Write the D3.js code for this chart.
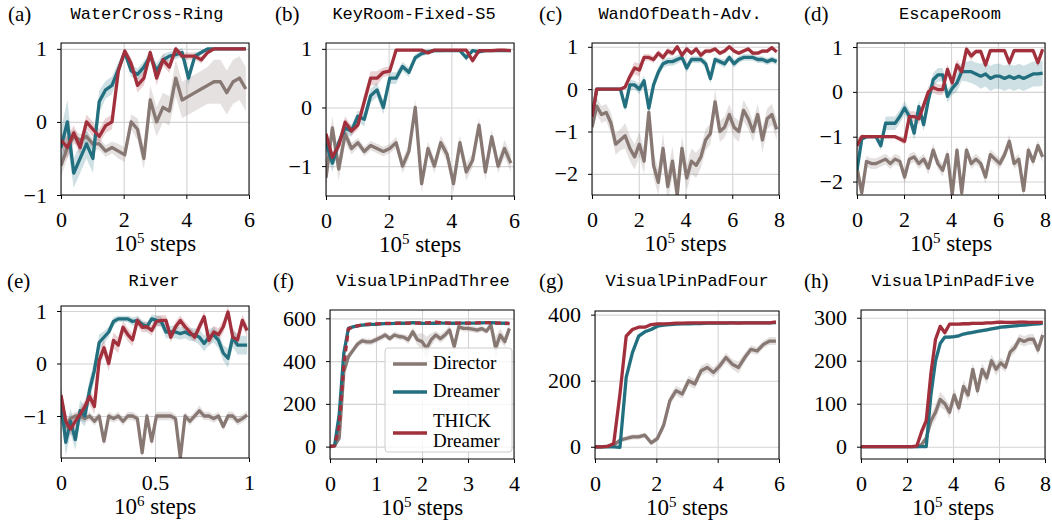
<!DOCTYPE html>
<html>
<head>
    <meta charset="utf-8">
    <script src="https://d3js.org/d3.v7.min.js"></script>
    <style>
        body { margin: 0; background: #fff; }
        .tick text { font-family: "Liberation Serif", serif; font-size: 22px; fill: #000; }
        .grid line { stroke: #d4d4d4; stroke-width: 1.1; }
        .grid path { display: none; }
        .axis path { display: none; }
        .axis line { stroke: #000; stroke-width: 1; }
        .title { font-family: "Liberation Mono", monospace; font-size: 17px; fill: #000; }
        .plabel { font-family: "Liberation Serif", serif; font-size: 21px; fill: #000; }
        .xlabel { font-family: "Liberation Serif", serif; font-size: 23px; fill: #000; }
        .legend text { font-family: "Liberation Serif", serif; font-size: 19px; fill: #000; }
    </style>
</head>
<body>
<script>
    // series names and colours
    let names = ["Director", "Dreamer", "THICK Dreamer"];
    let colors = ["#877873", "#22707f", "#a2303c"];

    // (a) WaterCross-Ring, 30 samples over 0..5.9 (x 1e5 steps)
    let aDirector = [-0.6, -0.35, -0.2, -0.25, -0.2, -0.3, -0.3, -0.4, -0.35, -0.4, -0.45, 0.0, -0.1, -0.5, 0.3, 0.0, 0.2, 0.15, 0.6, 0.3, 0.35, 0.4, 0.45, 0.5, 0.55, 0.55, 0.4, 0.55, 0.6, 0.45];
    let aDirectorSd = [0.15, 0.15, 0.1, 0.08, 0.08, 0.08, 0.08, 0.08, 0.08, 0.1, 0.1, 0.1, 0.15, 0.15, 0.2, 0.2, 0.2, 0.2, 0.25, 0.25, 0.25, 0.25, 0.25, 0.25, 0.3, 0.3, 0.3, 0.3, 0.3, 0.3];
    let aDreamer = [-0.35, 0.0, -0.7, -0.5, -0.3, -0.5, 0.28, 0.44, 0.5, 0.72, 0.95, 0.7, 0.65, 0.75, 0.9, 0.7, 0.85, 0.9, 0.92, 0.95, 0.6, 0.9, 0.95, 1.0, 1.0, 1.0, 1.0, 1.0, 1.0, 1.0];
    let aDreamerSd = [0.25, 0.3, 0.2, 0.2, 0.2, 0.2, 0.15, 0.12, 0.12, 0.1, 0.05, 0.08, 0.08, 0.08, 0.08, 0.1, 0.08, 0.06, 0.06, 0.06, 0.1, 0.05, 0.03, 0.02, 0.01, 0.01, 0.01, 0.01, 0.01, 0.01];
    let aThick = [-0.25, -0.35, -0.15, -0.35, 0.0, -0.1, -0.2, -0.05, 0.0, 0.7, 0.97, 0.8, 0.5, 0.6, 0.95, 0.6, 0.85, 0.75, 1.0, 0.9, 0.9, 0.9, 0.85, 0.95, 1.0, 1.0, 1.0, 1.0, 1.0, 1.0];
    let aThickSd = [0.1, 0.15, 0.1, 0.1, 0.1, 0.1, 0.1, 0.1, 0.1, 0.08, 0.04, 0.08, 0.1, 0.1, 0.05, 0.1, 0.08, 0.08, 0.04, 0.05, 0.05, 0.05, 0.05, 0.03, 0.01, 0.01, 0.01, 0.01, 0.01, 0.01];

    // (b) KeyRoom-Fixed-S5, 30 samples over 0..5.9
    let bDirector = [-1.2, -0.35, -1.05, -0.45, -0.7, -0.6, -0.75, -0.65, -0.7, -0.75, -0.7, -0.6, -1.0, -0.75, 0.0, -1.3, -0.7, -1.0, -0.6, -0.8, -1.3, -0.6, -1.1, -0.9, -0.3, -1.1, -0.5, -1.0, -0.7, -0.95];
    let bDirectorSd = [0.2, 0.2, 0.2, 0.15, 0.1, 0.08, 0.08, 0.08, 0.08, 0.08, 0.08, 0.1, 0.12, 0.12, 0.15, 0.15, 0.12, 0.12, 0.12, 0.12, 0.15, 0.12, 0.15, 0.12, 0.12, 0.15, 0.12, 0.12, 0.15, 0.15];
    let bDreamer = [-0.6, -0.95, -0.6, -0.35, -0.4, -0.15, -0.2, 0.2, 0.3, 0.0, 0.5, 0.5, 0.7, 0.6, 0.85, 0.92, 0.95, 0.97, 0.97, 0.97, 0.97, 0.97, 0.85, 0.97, 0.95, 0.97, 0.97, 0.97, 0.97, 0.97];
    let bDreamerSd = [0.15, 0.15, 0.1, 0.1, 0.1, 0.1, 0.12, 0.12, 0.12, 0.12, 0.1, 0.1, 0.08, 0.08, 0.06, 0.05, 0.04, 0.03, 0.03, 0.02, 0.02, 0.02, 0.06, 0.02, 0.03, 0.02, 0.02, 0.02, 0.02, 0.02];
    let bThick = [-0.45, -0.85, -0.65, -0.25, -0.4, -0.3, 0.1, 0.5, 0.5, 0.6, 0.62, 0.98, 0.98, 0.98, 0.98, 0.98, 0.93, 0.98, 0.98, 0.98, 0.98, 0.98, 0.98, 0.8, 0.97, 0.97, 0.97, 0.98, 0.98, 0.97];
    let bThickSd = [0.1, 0.1, 0.1, 0.1, 0.08, 0.08, 0.12, 0.12, 0.12, 0.08, 0.08, 0.03, 0.02, 0.02, 0.02, 0.02, 0.03, 0.02, 0.02, 0.02, 0.02, 0.02, 0.02, 0.06, 0.02, 0.02, 0.02, 0.02, 0.02, 0.02];

    // (c) WandOfDeath-Adv., 40 samples over 0..7.9
    let cDirector = [-0.9, -0.4, -0.6, -0.55, -0.8, -1.3, -1.2, -1.1, -1.4, -1.6, -1.3, -1.7, -0.55, -1.8, -2.2, -1.4, -2.3, -1.7, -2.5, -1.4, -2.1, -1.7, -1.8, -1.6, -1.2, -1.05, -0.3, -1.0, -0.9, -0.6, -0.9, -1.0, -0.5, -0.7, -1.0, -0.6, -1.2, -0.7, -0.6, -0.95];
    let cDirectorSd = [0.2, 0.2, 0.2, 0.2, 0.25, 0.25, 0.25, 0.3, 0.3, 0.3, 0.3, 0.3, 0.3, 0.3, 0.3, 0.35, 0.35, 0.35, 0.3, 0.3, 0.3, 0.3, 0.3, 0.25, 0.25, 0.25, 0.3, 0.25, 0.25, 0.25, 0.25, 0.25, 0.25, 0.25, 0.25, 0.25, 0.3, 0.25, 0.25, 0.25];
    let cDreamer = [-0.65, 0, 0, 0, 0, 0, 0, -0.42, 0.1, 0.1, 0.0, 0.2, -0.45, 0.1, 0.4, 0.6, 0.65, 0.65, 0.7, 0.75, 0.5, 0.7, 0.7, 0.7, 0.6, 0.25, 0.7, 0.65, 0.6, 0.75, 0.6, 0.7, 0.75, 0.75, 0.75, 0.7, 0.7, 0.65, 0.7, 0.65];
    let cDreamerSd = [0.05, 0.02, 0.02, 0.02, 0.02, 0.02, 0.02, 0.12, 0.12, 0.1, 0.12, 0.12, 0.12, 0.12, 0.12, 0.1, 0.1, 0.1, 0.1, 0.08, 0.12, 0.08, 0.08, 0.08, 0.1, 0.12, 0.08, 0.08, 0.1, 0.08, 0.1, 0.08, 0.08, 0.08, 0.08, 0.08, 0.08, 0.08, 0.08, 0.08];
    let cThick = [-0.65, 0, 0, 0, 0, 0, 0, 0.05, 0.3, 0.5, 0.45, 0.75, 0.75, 0.7, 0.85, 0.75, 0.9, 0.85, 1.0, 0.8, 0.95, 0.85, 0.95, 0.8, 0.9, 0.9, 0.95, 0.85, 0.9, 1.0, 0.9, 0.85, 0.9, 0.95, 0.85, 0.85, 0.9, 0.9, 0.98, 0.88];
    let cThickSd = [0.05, 0.02, 0.02, 0.02, 0.02, 0.02, 0.02, 0.05, 0.1, 0.15, 0.15, 0.08, 0.08, 0.08, 0.08, 0.08, 0.08, 0.08, 0.05, 0.08, 0.06, 0.06, 0.06, 0.08, 0.06, 0.06, 0.05, 0.06, 0.06, 0.04, 0.05, 0.05, 0.05, 0.05, 0.05, 0.05, 0.05, 0.05, 0.04, 0.05];

    // (d) EscapeRoom, 40 samples over 0..7.9
    let dDirector = [-1.7, -2.25, -1.55, -1.6, -1.6, -1.55, -1.5, -1.6, -1.5, -1.55, -1.9, -1.5, -1.45, -1.6, -1.5, -1.7, -1.3, -1.6, -1.75, -1.4, -2.3, -1.3, -2.25, -1.3, -1.6, -1.5, -1.6, -1.9, -1.4, -1.5, -1.6, -1.4, -1.1, -1.6, -1.5, -2.2, -1.3, -1.55, -1.2, -1.45];
    let dDirectorSd = [0.2, 0.2, 0.12, 0.12, 0.12, 0.12, 0.12, 0.12, 0.12, 0.12, 0.15, 0.12, 0.12, 0.12, 0.12, 0.15, 0.15, 0.12, 0.15, 0.12, 0.15, 0.12, 0.15, 0.12, 0.12, 0.12, 0.12, 0.15, 0.12, 0.12, 0.12, 0.12, 0.15, 0.12, 0.12, 0.15, 0.12, 0.12, 0.12, 0.12];
    let dDreamer = [-1.75, -1.05, -1.0, -1.0, -1.0, -1.2, -0.7, -0.7, -0.7, -0.55, -0.36, -0.55, -0.92, -0.33, -0.73, -0.18, 0.27, 0.38, 0.38, -0.1, 0.08, 0.2, 0.45, 0.45, 0.45, 0.4, 0.35, 0.4, 0.3, 0.35, 0.35, 0.3, 0.35, 0.3, 0.35, 0.3, 0.35, 0.4, 0.4, 0.42];
    let dDreamerSd = [0.15, 0.05, 0.04, 0.04, 0.04, 0.1, 0.15, 0.15, 0.15, 0.15, 0.15, 0.15, 0.15, 0.15, 0.15, 0.15, 0.15, 0.15, 0.15, 0.15, 0.15, 0.2, 0.2, 0.22, 0.25, 0.25, 0.28, 0.28, 0.28, 0.28, 0.28, 0.28, 0.28, 0.28, 0.28, 0.28, 0.28, 0.28, 0.28, 0.28];
    let dThick = [-1.2, -1.0, -1.0, -1.0, -1.0, -1.0, -1.0, -1.0, -1.0, -1.05, -1.1, -0.55, -0.55, -0.6, -0.3, 0.0, 0.1, 0.05, 0.05, 0.5, 0.2, 0.6, 0.45, 0.95, 0.8, 0.9, 0.9, 0.6, 0.92, 0.92, 0.92, 0.92, 0.65, 0.92, 0.92, 0.92, 0.92, 0.92, 0.65, 0.95];
    let dThickSd = [0.15, 0.05, 0.04, 0.04, 0.04, 0.04, 0.04, 0.04, 0.04, 0.06, 0.08, 0.12, 0.12, 0.12, 0.12, 0.12, 0.12, 0.12, 0.12, 0.12, 0.12, 0.12, 0.12, 0.08, 0.1, 0.05, 0.05, 0.1, 0.05, 0.05, 0.05, 0.05, 0.1, 0.05, 0.05, 0.05, 0.05, 0.05, 0.1, 0.05];

    // (e) River, 40 samples over 0..0.99 (x 1e6 steps)
    let eDirector = [-0.82, -1.2, -1.05, -1.0, -1.0, -1.05, -1.0, -1.1, -1.0, -1.48, -1.0, -1.05, -1.0, -1.1, -1.0, -1.0, -1.05, -1.7, -1.0, -1.48, -1.0, -1.0, -1.0, -1.0, -1.05, -1.8, -1.0, -1.1, -1.0, -0.9, -1.0, -1.0, -1.05, -1.0, -1.2, -1.0, -1.0, -1.1, -1.05, -0.98];
    let eDirectorSd = [0.12, 0.1, 0.08, 0.08, 0.08, 0.08, 0.08, 0.08, 0.08, 0.1, 0.08, 0.08, 0.08, 0.08, 0.08, 0.08, 0.08, 0.1, 0.08, 0.1, 0.08, 0.08, 0.08, 0.08, 0.08, 0.1, 0.08, 0.08, 0.08, 0.1, 0.08, 0.08, 0.08, 0.08, 0.08, 0.08, 0.08, 0.08, 0.08, 0.08];
    let eDreamer = [-0.75, -1.5, -1.1, -1.45, -0.9, -1.0, -0.5, -0.13, 0.4, 0.5, 0.6, 0.8, 0.85, 0.85, 0.85, 0.8, 0.82, 0.75, 0.7, 0.85, 0.82, 0.8, 0.6, 0.6, 0.6, 0.57, 0.6, 0.55, 0.55, 0.5, 0.38, 0.5, 0.55, 0.44, 0.2, 0.1, 0.5, 0.35, 0.35, 0.35];
    let eDreamerSd = [0.25, 0.25, 0.25, 0.2, 0.2, 0.2, 0.2, 0.2, 0.15, 0.12, 0.1, 0.08, 0.06, 0.06, 0.06, 0.08, 0.08, 0.08, 0.08, 0.08, 0.1, 0.1, 0.12, 0.12, 0.12, 0.12, 0.12, 0.12, 0.12, 0.15, 0.15, 0.15, 0.15, 0.15, 0.15, 0.18, 0.18, 0.18, 0.18, 0.18];
    let eThick = [-0.6, -1.1, -1.25, -1.1, -0.97, -0.82, -0.63, -0.82, 0.06, 0.3, 0.0, 0.44, 0.35, 0.69, 0.55, 0.45, 0.82, 0.69, 0.7, 0.63, 0.8, 0.82, 0.82, 0.5, 0.7, 0.82, 0.7, 0.6, 0.5, 0.7, 0.89, 0.44, 0.6, 0.55, 0.7, 0.98, 0.5, 0.45, 0.82, 0.63];
    let eThickSd = [0.15, 0.15, 0.12, 0.12, 0.12, 0.12, 0.15, 0.15, 0.15, 0.15, 0.15, 0.15, 0.15, 0.12, 0.12, 0.12, 0.1, 0.1, 0.1, 0.1, 0.1, 0.1, 0.1, 0.1, 0.1, 0.1, 0.1, 0.1, 0.1, 0.1, 0.1, 0.12, 0.12, 0.12, 0.12, 0.12, 0.12, 0.12, 0.12, 0.12];

    // (f) VisualPinPadThree, 40 samples over 0..3.9
    let fDirector = [0, 5, 40, 350, 420, 450, 480, 495, 490, 490, 500, 510, 522, 505, 522, 515, 512, 500, 537, 500, 491, 460, 500, 522, 505, 522, 546, 467, 561, 553, 553, 550, 545, 552, 540, 569, 460, 522, 491, 553];
    let fDirectorSd = [2, 5, 15, 20, 20, 15, 15, 15, 15, 15, 15, 15, 15, 15, 15, 15, 15, 20, 20, 25, 40, 55, 30, 20, 20, 20, 20, 25, 15, 15, 15, 15, 15, 15, 15, 15, 55, 30, 25, 20];
    let fDreamer = [0, 5, 150, 436, 553, 560, 565, 568, 570, 572, 572, 574, 575, 575, 576, 577, 577, 578, 580, 579, 577, 576, 576, 577, 578, 578, 577, 577, 578, 578, 578, 578, 578, 579, 580, 580, 579, 578, 577, 575];
    let fDreamerSd = [1, 3, 15, 15, 8, 6, 5, 5, 5, 5, 5, 5, 5, 5, 5, 5, 5, 5, 5, 5, 5, 5, 5, 5, 5, 5, 5, 5, 5, 5, 5, 5, 5, 5, 5, 5, 5, 5, 5, 5];
    let fThick = [0, 3, 100, 380, 550, 560, 565, 570, 572, 574, 574, 575, 576, 576, 577, 577, 578, 578, 578, 578, 578, 579, 580, 582, 580, 579, 578, 578, 578, 578, 578, 578, 579, 580, 580, 579, 578, 578, 577, 576];
    let fThickSd = [1, 3, 15, 15, 8, 6, 5, 5, 5, 5, 5, 5, 5, 5, 5, 5, 5, 5, 5, 5, 5, 5, 5, 5, 5, 5, 5, 5, 5, 5, 5, 5, 5, 5, 5, 5, 5, 5, 5, 5];

    // (g) VisualPinPadFour, 30 samples over 0..5.9
    let gDirector = [0, 0, 2, 5, 20, 25, 30, 30, 35, 12, 25, 65, 140, 170, 160, 200, 190, 230, 240, 225, 245, 270, 250, 240, 270, 295, 290, 310, 320, 320];
    let gDirectorSd = [1, 1, 2, 4, 8, 8, 8, 8, 8, 8, 10, 15, 15, 15, 15, 15, 15, 15, 15, 15, 15, 15, 15, 18, 15, 12, 12, 12, 12, 12];
    let gDreamer = [0, 0, 0, 0, -2, 210, 285, 335, 348, 355, 365, 368, 370, 371, 372, 372, 373, 373, 374, 374, 374, 374, 375, 375, 375, 375, 375, 375, 375, 376];
    let gDreamerSd = [1, 1, 1, 1, 2, 12, 10, 8, 6, 5, 4, 4, 3, 3, 3, 3, 3, 3, 3, 3, 3, 3, 3, 3, 3, 3, 3, 3, 3, 3];
    let gThick = [0, 0, 1, 10, 160, 335, 355, 362, 362, 370, 372, 372, 373, 374, 374, 375, 375, 375, 375, 375, 375, 375, 375, 374, 375, 375, 375, 375, 375, 378];
    let gThickSd = [1, 1, 1, 3, 12, 8, 6, 5, 5, 4, 4, 3, 3, 3, 3, 3, 3, 3, 3, 3, 3, 3, 3, 3, 3, 3, 3, 3, 3, 3];

    // (h) VisualPinPadFive, 40 samples over 0..7.9
    let hDirector = [0, 0, 0, 0, 0, 0, 0, 0, 0, 0, 0, 0, 0, 5, 20, 60, 80, 110, 100, 80, 120, 90, 140, 120, 180, 130, 180, 160, 200, 180, 195, 185, 220, 230, 250, 245, 250, 250, 225, 260];
    let hDirectorSd = [1, 1, 1, 1, 1, 1, 1, 1, 1, 1, 1, 1, 1, 4, 10, 15, 18, 18, 15, 15, 15, 15, 15, 15, 15, 15, 15, 15, 15, 15, 12, 12, 12, 12, 12, 12, 12, 12, 12, 12];
    let hDreamer = [0, 0, 0, 0, 0, 0, 0, 0, 0, 0, 0, 0, 0, 0, 0, 120, 200, 240, 255, 255, 256, 258, 262, 264, 266, 268, 270, 272, 274, 276, 278, 279, 280, 281, 282, 283, 284, 285, 286, 287];
    let hDreamerSd = [1, 1, 1, 1, 1, 1, 1, 1, 1, 1, 1, 1, 1, 1, 2, 10, 10, 6, 4, 4, 4, 4, 4, 4, 4, 4, 4, 4, 4, 4, 4, 4, 4, 4, 4, 4, 4, 4, 4, 4];
    let hThick = [0, 0, 0, 0, 0, 0, 0, 0, 0, 0, 0, 0, 2, 35, 60, 170, 250, 280, 265, 285, 285, 285, 286, 286, 287, 287, 287, 288, 288, 289, 290, 289, 289, 289, 290, 290, 289, 289, 289, 289];
    let hThickSd = [1, 1, 1, 1, 1, 1, 1, 1, 1, 1, 1, 1, 2, 10, 15, 15, 10, 6, 6, 4, 4, 4, 4, 4, 4, 4, 4, 4, 4, 4, 4, 4, 4, 4, 4, 4, 4, 4, 4, 4];

    // panel layout (pixel boxes are left, top, right, bottom)
    let panels = [
        { label: "(a)", title: "WaterCross-Ring", box: [61, 43, 249, 195], titleX: 147, xEnd: 5.9, xDomain: [0, 6], xTicks: [0, 2, 4, 6], yDomain: [-1, 1.08], yTicks: [-1, 0, 1], exp: "5",
          series: [[aDirector, aDirectorSd], [aDreamer, aDreamerSd], [aThick, aThickSd]] },
        { label: "(b)", title: "KeyRoom-Fixed-S5", box: [326, 43, 514, 196], titleX: 414, xEnd: 5.9, xDomain: [0, 6], xTicks: [0, 2, 4, 6], yDomain: [-1.51, 1.1], yTicks: [-1, 0, 1], exp: "5",
          series: [[bDirector, bDirectorSd], [bDreamer, bDreamerSd], [bThick, bThickSd]] },
        { label: "(c)", title: "WandOfDeath-Adv.", box: [592, 43, 779, 195], titleX: 680, xEnd: 7.9, xDomain: [0, 8], xTicks: [0, 2, 4, 6, 8], yDomain: [-2.5, 1.09], yTicks: [-2, -1, 0, 1], exp: "5",
          series: [[cDirector, cDirectorSd], [cDreamer, cDreamerSd], [cThick, cThickSd]] },
        { label: "(d)", title: "EscapeRoom", box: [857, 43, 1045, 195], titleX: 950, xEnd: 7.9, xDomain: [0, 8], xTicks: [0, 2, 4, 6, 8], yDomain: [-2.3, 1.09], yTicks: [-2, -1, 0, 1], exp: "5",
          series: [[dDirector, dDirectorSd], [dDreamer, dDreamerSd], [dThick, dThickSd]] },
        { label: "(e)", title: "River", box: [61, 306, 249, 458], titleX: 154, xEnd: 0.99, xDomain: [0, 1], xTicks: [0, 0.5, 1], yDomain: [-1.8, 1.095], yTicks: [-1, 0, 1], exp: "6",
          series: [[eDirector, eDirectorSd], [eDreamer, eDreamerSd], [eThick, eThickSd]] },
        { label: "(f)", title: "VisualPinPadThree", box: [330, 310, 514, 459], titleX: 423, xEnd: 3.9, xDomain: [0, 4], xTicks: [0, 1, 2, 3, 4], yDomain: [-58, 639], yTicks: [0, 200, 400, 600], exp: "5",
          series: [[fDirector, fDirectorSd], [fDreamer, fDreamerSd], [fThick, fThickSd]], dashed: true, legend: true },
        { label: "(g)", title: "VisualPinPadFour", box: [595, 311, 779, 459], titleX: 687, xEnd: 5.9, xDomain: [0, 6], xTicks: [0, 2, 4, 6], yDomain: [-37, 411], yTicks: [0, 200, 400], exp: "5",
          series: [[gDirector, gDirectorSd], [gDreamer, gDreamerSd], [gThick, gThickSd]] },
        { label: "(h)", title: "VisualPinPadFive", box: [861, 310, 1045, 459], titleX: 953, xEnd: 7.9, xDomain: [0, 8], xTicks: [0, 2, 4, 6, 8], yDomain: [-28.6, 318], yTicks: [0, 100, 200, 300], exp: "5",
          series: [[hDirector, hDirectorSd], [hDreamer, hDreamerSd], [hThick, hThickSd]] }
    ];
    let labelX = [8, 275, 539, 804, 7, 273, 539, 804];

    let svg = d3.select("body").append("svg")
        .attr("width", 1052)
        .attr("height", 520);

    let fmt = function(d) { return String(d).replace("-", "\u2212"); };

    panels.forEach(function(p, pi) {
        let l = p.box[0], t = p.box[1], r = p.box[2], b = p.box[3];
        let x = d3.scaleLinear().domain(p.xDomain).range([l, r]);
        let y = d3.scaleLinear().domain(p.yDomain).range([b, t]);
        let g = svg.append("g");

        g.append("clipPath").attr("id", "clip" + pi)
            .append("rect").attr("x", l).attr("y", t).attr("width", r - l).attr("height", b - t);

        // grid
        g.append("g").attr("class", "grid")
            .attr("transform", "translate(0," + b + ")")
            .call(d3.axisBottom(x).tickValues(p.xTicks).tickSize(-(b - t)).tickFormat(""));
        g.append("g").attr("class", "grid")
            .attr("transform", "translate(" + l + ",0)")
            .call(d3.axisLeft(y).tickValues(p.yTicks).tickSize(-(r - l)).tickFormat(""));

        // bands and lines
        let n = p.series[0][0].length;
        let xs = d3.range(n).map(function(i) { return p.xEnd * i / (n - 1); });
        let plot = g.append("g").attr("clip-path", "url(#clip" + pi + ")");

        p.series.forEach(function(s, si) {
            let area = d3.area()
                .x(function(d, i) { return x(xs[i]); })
                .y0(function(d, i) { return y(d - s[1][i]); })
                .y1(function(d, i) { return y(d + s[1][i]); });
            plot.append("path").datum(s[0])
                .attr("d", area)
                .attr("fill", colors[si])
                .attr("fill-opacity", 0.22);
        });
        p.series.forEach(function(s, si) {
            let line = d3.line()
                .x(function(d, i) { return x(xs[i]); })
                .y(function(d) { return y(d); });
            let path = plot.append("path").datum(s[0])
                .attr("d", line)
                .attr("fill", "none")
                .attr("stroke", colors[si])
                .attr("stroke-width", 3.3)
                .attr("stroke-linejoin", "round");
            if (p.dashed && si === 2) path.attr("stroke-dasharray", "6,4");
        });

        // spines
        g.append("rect").attr("x", l).attr("y", t).attr("width", r - l).attr("height", b - t)
            .attr("fill", "none").attr("stroke", "#000").attr("stroke-width", 1);

        // axes
        g.append("g").attr("class", "axis")
            .attr("transform", "translate(0," + b + ")")
            .call(d3.axisBottom(x).tickValues(p.xTicks).tickSize(4).tickPadding(12).tickFormat(fmt));
        g.append("g").attr("class", "axis")
            .attr("transform", "translate(" + l + ",0)")
            .call(d3.axisLeft(y).tickValues(p.yTicks).tickSize(4).tickPadding(10).tickFormat(fmt));

        // labels
        let row = pi < 4 ? 0 : 1;
        g.append("text").attr("class", "plabel")
            .attr("x", labelX[pi]).attr("y", row === 0 ? 21 : 288)
            .text(p.label);
        g.append("text").attr("class", "title")
            .attr("x", p.titleX).attr("y", row === 0 ? 19 : 286)
            .attr("text-anchor", "middle")
            .text(p.title);
        let xl = g.append("text").attr("class", "xlabel")
            .attr("x", (l + r) / 2).attr("y", b + 56)
            .attr("text-anchor", "middle");
        xl.append("tspan").text("10");
        xl.append("tspan").attr("dy", -8).attr("font-size", 15).text(p.exp);
        xl.append("tspan").attr("dy", 8).text(" steps");

        // legend
        if (p.legend) {
            let lg = g.append("g").attr("class", "legend");
            lg.append("rect").attr("x", 385).attr("y", 348).attr("width", 127).attr("height", 104)
                .attr("rx", 3).attr("fill", "#fff").attr("fill-opacity", 0.8)
                .attr("stroke", "#cccccc").attr("stroke-width", 1);
            let rows = [
                { ly: 364, text: ["Director"], ty: 369 },
                { ly: 392, text: ["Dreamer"], ty: 397 },
                { ly: 433, text: ["THICK", "Dreamer"], ty: 427 }
            ];
            rows.forEach(function(e, ei) {
                lg.append("line").attr("x1", 393).attr("x2", 427)
                    .attr("y1", e.ly).attr("y2", e.ly)
                    .attr("stroke", colors[ei]).attr("stroke-width", 3.3);
                e.text.forEach(function(tx, k) {
                    lg.append("text").attr("x", 433).attr("y", e.ty + k * 20).text(tx);
                });
            });
        }
    });
</script>
</body>
</html>
